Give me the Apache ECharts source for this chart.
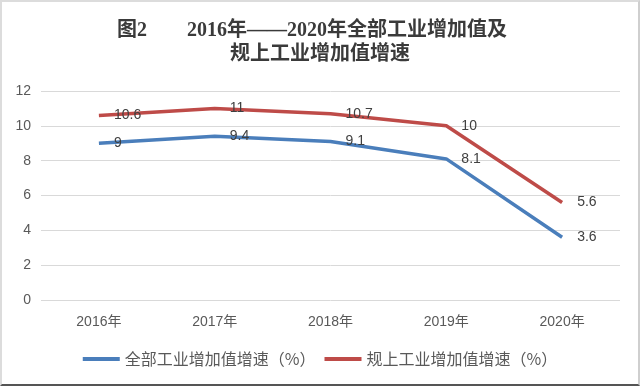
<!DOCTYPE html>
<html>
<head>
<meta charset="utf-8">
<script src="https://cdn.jsdelivr.net/npm/echarts@6/dist/echarts.min.js"></script>
<style>
html,body{margin:0;padding:0;background:#fff;}
#wrap{position:relative;width:640px;height:386px;box-sizing:border-box;border-top:2px solid #dcdcdc;border-left:2px solid #dcdcdc;border-right:2px solid #cfcfcf;border-bottom:2px solid #555;}
#main{position:absolute;left:-2px;top:-2px;width:640px;height:386px;}
</style>
</head>
<body>
<div id="wrap"><div id="main"></div></div>
<script>
var categories = ['2016年', '2017年', '2018年', '2019年', '2020年'];
var allIndustry = [9, 9.4, 9.1, 8.1, 3.6];
var aboveScale = [10.6, 11, 10.7, 10, 5.6];
var yTicks = [0, 2, 4, 6, 8, 10, 12];
var seriesNames = ['全部工业增加值增速（%）', '规上工业增加值增速（%）'];
var titleLine1a = '图2';
var titleLine1b = '2016年——2020年全部工业增加值及';
var titleLine2 = '规上工业增加值增速';

var chart = echarts.init(document.getElementById('main'), null, {renderer: 'canvas'});
var titleStyle = {fontFamily: 'serif, "Noto Sans CJK SC"', fontWeight: 'bold', fontSize: 20, color: '#3a3a3a'};
var labelCfg = {show: true, position: 'right', distance: 15, fontSize: 14, color: '#404040', fontFamily: 'Arial, "Noto Sans CJK SC"'};
chart.setOption({
  animation: false,
  title: [
    {text: titleLine1a, left: 112, top: 16, textStyle: titleStyle},
    {text: titleLine1b, left: 182, top: 16, textStyle: titleStyle},
    {text: titleLine2, left: 'center', top: 40, textStyle: titleStyle}
  ],
  grid: {left: 41, right: 20, top: 91, bottom: 86},
  legend: {
    bottom: 14, left: 'center',
    itemWidth: 37, itemHeight: 4, itemGap: 9,
    textStyle: {fontSize: 16, color: '#595959', fontFamily: '"Noto Sans CJK SC", sans-serif'},
    data: [
      {name: seriesNames[0], icon: 'rect', itemStyle: {color: '#4a7ebb', opacity: 1}},
      {name: seriesNames[1], icon: 'rect', itemStyle: {color: '#be4b48', opacity: 1}}
    ]
  },
  xAxis: {
    type: 'category', data: categories, boundaryGap: true,
    axisLine: {show: false}, axisTick: {show: false},
    axisLabel: {fontSize: 14, color: '#595959', margin: 15, fontFamily: 'Arial, "Noto Sans CJK SC"'}
  },
  yAxis: {
    type: 'value', min: yTicks[0], max: yTicks[yTicks.length - 1], interval: 2,
    axisLine: {show: false}, axisTick: {show: false},
    axisLabel: {fontSize: 14, color: '#595959', margin: 10, fontFamily: 'Arial'},
    splitLine: {lineStyle: {color: '#d9d9d9', width: 1}}
  },
  series: [
    {name: seriesNames[0], type: 'line', data: allIndustry, symbol: 'circle', symbolSize: 0.1, showSymbol: true,
     itemStyle: {color: '#4a7ebb'}, lineStyle: {color: '#4a7ebb', width: 3.5},
     label: labelCfg, z: 3},
    {name: seriesNames[1], type: 'line', data: aboveScale, symbol: 'circle', symbolSize: 0.1, showSymbol: true,
     itemStyle: {color: '#be4b48'}, lineStyle: {color: '#be4b48', width: 3.5},
     label: labelCfg, z: 2}
  ]
});
</script>
</body>
</html>
